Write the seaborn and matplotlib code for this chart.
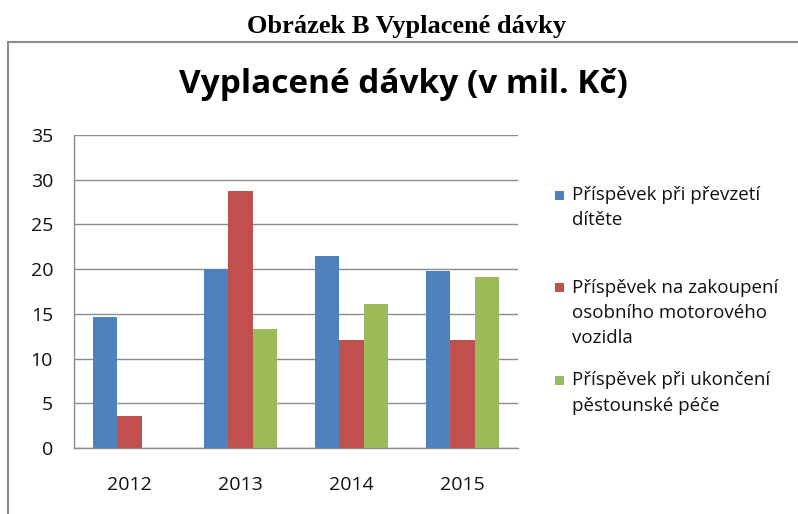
import numpy as np
import pandas as pd
import matplotlib
matplotlib.use("Agg")
import matplotlib.pyplot as plt
import seaborn as sns
from matplotlib.patches import Rectangle
from matplotlib.legend_handler import HandlerPatch

# ---------------- data ----------------
years = ["2012", "2013", "2014", "2015"]
series = [
    "Příspěvek při převzetí dítěte",
    "Příspěvek na zakoupení osobního motorového vozidla",
    "Příspěvek při ukončení pěstounské péče",
]
prevzeti_ditete = [14.7, 20.0, 21.5, 19.8]
zakoupeni_vozidla = [3.6, 28.7, 12.1, 12.1]
ukonceni_pece = [np.nan, 13.3, 16.1, 19.1]
colors = ["#4F81BD", "#C0504D", "#9BBB59"]
legend_labels = [
    "Příspěvek při převzetí\ndítěte\n",
    "Příspěvek na zakoupení\nosobního motorového\nvozidla",
    "Příspěvek při ukončení\npěstounské péče",
]
yticks = [0, 5, 10, 15, 20, 25, 30, 35]
heading = "Obrázek B Vyplacené dávky"
title = "Vyplacené dávky (v mil. Kč)"

df = pd.DataFrame({
    "rok": years * 3,
    "serie": np.repeat(series, len(years)),
    "hodnota": prevzeti_ditete + zakoupeni_vozidla + ukonceni_pece,
})

# ---------------- style ----------------
sns.set_style("white")
plt.rcParams["font.family"] = ["Open Sans", "DejaVu Sans"]

W, H = 798, 514
fig = plt.figure(figsize=(W / 100, H / 100), dpi=100)
fig.patch.set_facecolor("white")

ax = fig.add_axes([74 / W, 66 / H, 444 / W, 313 / H])

sns.barplot(
    data=df, x="rok", y="hodnota", hue="serie",
    order=years, hue_order=series, palette=colors,
    saturation=1, width=0.66, gap=0, errorbar=None,
    linewidth=0, ax=ax, legend=True,
)

grey = "#8c8c8c"
txt = "#111111"
ax.set_ylim(0, 35)
ax.set_yticks(yticks)
ax.set_xlim(-0.5, len(years) - 0.5)
ax.set_xticks(np.arange(-0.5, len(years), 1.0), minor=True)
ax.set_xlabel("")
ax.set_ylabel("")
ax.yaxis.grid(True, color=grey, linewidth=1.0)
ax.xaxis.grid(False)
ax.set_axisbelow(True)
for s in ["top", "right"]:
    ax.spines[s].set_visible(False)
for s in ["left", "bottom"]:
    ax.spines[s].set_color(grey)
    ax.spines[s].set_linewidth(1.0)
ax.tick_params(axis="x", which="major", length=0, pad=20, labelsize=14,
               labelcolor=txt)
ax.tick_params(axis="x", which="minor", length=5, width=1, color=grey,
               direction="out")
ax.tick_params(axis="y", length=4.3, width=1, color=grey, direction="out",
               pad=10.8, labelsize=14, labelcolor=txt)

# ---------------- legend ----------------
old = ax.get_legend()
handles = old.legend_handles
old.remove()


def square_at_bottom(legend, orig_handle, xdescent, ydescent, width, height, fontsize):
    return Rectangle((-xdescent, -ydescent), width, width)


leg = ax.legend(
    handles, legend_labels, loc="upper left",
    bbox_to_anchor=(555 / W, 1 - 185.75 / H), bbox_transform=fig.transFigure,
    frameon=False, borderpad=0, borderaxespad=0,
    handlelength=0.48, handleheight=0.76, handletextpad=0.41,
    labelspacing=1.28, prop={"family": "Open Sans", "size": 13.5},
    handler_map={Rectangle: HandlerPatch(patch_func=square_at_bottom)},
)
for t in leg.get_texts():
    t.set_linespacing(1.53)
    t.set_color(txt)
for col in leg._legend_handle_box.get_children():
    for item in col.get_children():
        item.align = "top"

# ---------------- titles & frame ----------------
fig.text(407 / W, 1 - 33.5 / H, heading, ha="center", va="baseline",
         fontsize=19, fontweight="bold", family="Liberation Serif", color="black")
fig.text(403 / W, 1 - 93.3 / H, title, ha="center", va="baseline",
         fontsize=24, fontweight="bold", family="Open Sans", color="black")

fig.add_artist(Rectangle((8 / W, -0.05), 1.2, 1 - 42.3 / H + 0.05,
                         transform=fig.transFigure, fill=False,
                         edgecolor=grey, linewidth=1.5, clip_on=False))

fig.savefig("out.png", dpi=100)
